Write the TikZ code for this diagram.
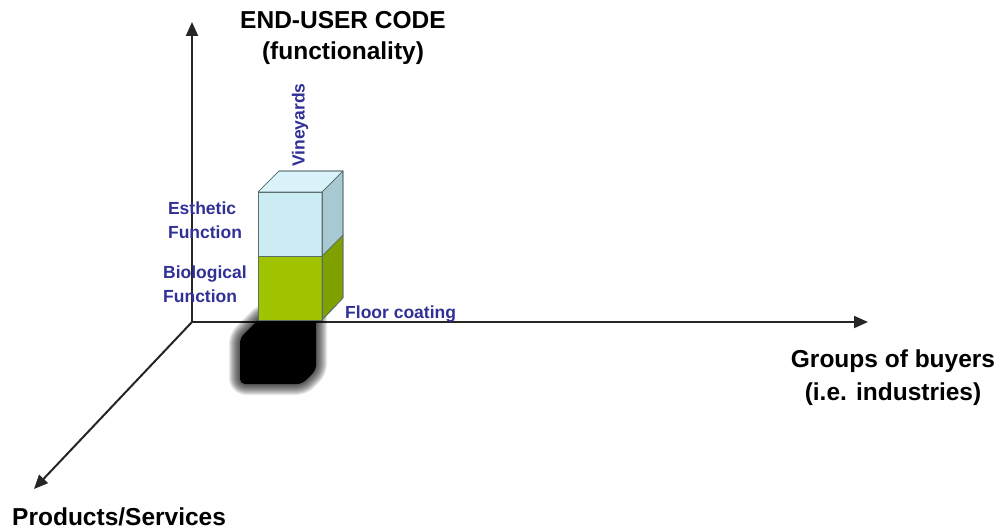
\documentclass[tikz,border=0pt]{standalone}
\usepackage{fontspec}
\setmainfont{Liberation Sans}
\usetikzlibrary{arrows.meta}
\definecolor{labelblue}{RGB}{48,48,150}
\definecolor{cyanfront}{RGB}{204,236,244}
\definecolor{cyanside}{RGB}{168,200,210}
\definecolor{cyantop}{RGB}{218,243,250}
\definecolor{greenfront}{RGB}{160,196,0}
\definecolor{greenside}{RGB}{128,160,0}
\definecolor{edgegray}{RGB}{90,110,110}
\tikzset{
  axis/.style={line width=2pt, black!85, -{Triangle[length=14pt,width=12pt]}},
  axistitle/.style={font=\fontsize{24.5}{28}\selectfont\bfseries, align=center, inner sep=0pt},
  funclabel/.style={font=\fontsize{17.5}{24}\selectfont\bfseries, text=labelblue, align=left, inner sep=0pt},
  face/.style={draw=edgegray, line width=0.6pt, line join=round},
  blur/.style={black, line join=round, opacity=0.09}
}
\begin{document}
\begin{tikzpicture}[x=1pt,y=-1pt]
\useasboundingbox (0,0) rectangle (1003,529);

% axes
\coordinate (O) at (192,322);
\coordinate (ytip) at (192,22);
\coordinate (xtip) at (868,322);
\coordinate (ztip) at (34,489);
\draw[axis] (O) -- (ytip);
\draw[axis] (O) -- (xtip);
\draw[axis] (O) -- (ztip);

% soft shadow under the block
\def\shadowpath{(264,314) -- (316,314) -- (316,370) -- (302,384) -- (240,384) -- (240,338) -- cycle}
\foreach \w in {22,20,18,16,14,12,10,8,6,4,2}
  \draw[blur, line width=\w pt, rounded corners=6pt] \shadowpath;
\fill[black, rounded corners=5pt] \shadowpath;

% block: biological layer
\fill[face, fill=greenfront] (258,256) rectangle (322,320);
\fill[face, fill=greenside] (322,256) -- (343,235) -- (343,298) -- (322,320) -- cycle;
\draw[face] (258,256) rectangle (322,320);
% block: esthetic layer
\fill[face, fill=cyanfront] (258,192) rectangle (322,256);
\fill[face, fill=cyanside] (322,192) -- (343,171) -- (343,235) -- (322,256) -- cycle;
\fill[face, fill=cyantop] (258,192) -- (279,171) -- (343,171) -- (322,192) -- cycle;
\draw[face] (258,192) rectangle (322,256);
\draw[face] (322,192) -- (343,171) -- (343,235) -- (322,256);
\draw[face] (258,192) -- (279,171) -- (343,171);
\draw[face] (343,235) -- (343,298) -- (322,320);

% axis titles
\node[axistitle] (ytitle) at (343,38) {END-USER CODE\\[3pt](functionality)};
\node[axistitle] (xtitle) at (893,378) {Groups of buyers\\[5pt](i.e. industries)};
\node[axistitle, anchor=west] (ztitle) at (12,517) {Products/Services};

% function and market labels
\node[funclabel] (esthetic) at (205,220) {Esthetic\\Function};
\node[funclabel] (biological) at (205,284) {Biological\\Function};
\node[funclabel, anchor=west] (floor) at (345,314) {Floor coating};
\node[funclabel, rotate=90] (vineyards) at (300,125) {Vineyards};
\end{tikzpicture}
\end{document}
